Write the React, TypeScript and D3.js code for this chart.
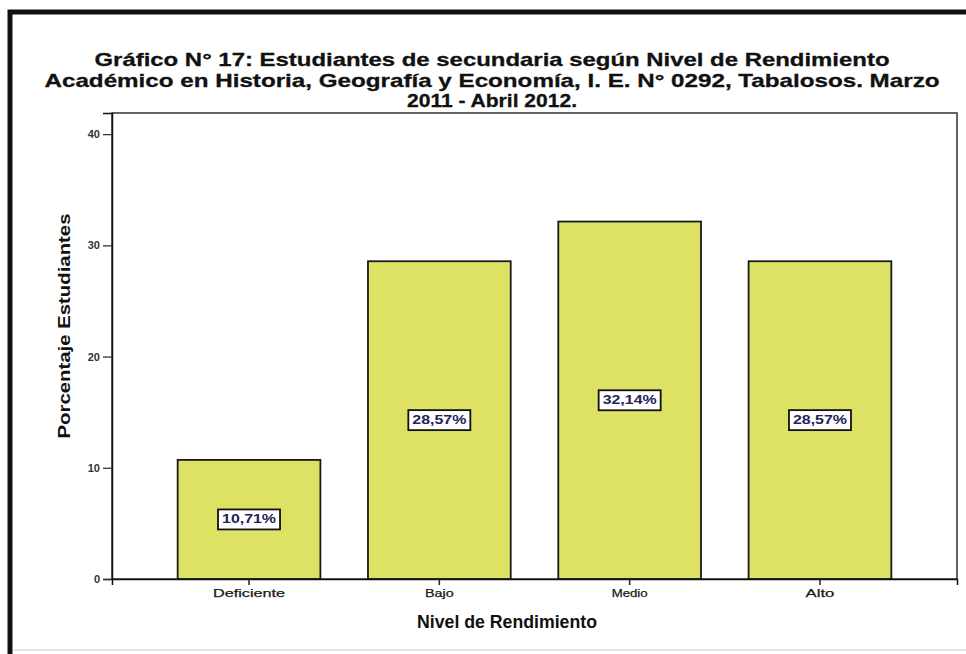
import React, { useEffect, useRef } from 'react';
import * as d3 from 'd3';

const W = 966, H = 654;
const M = { top: 113, right: 9, bottom: 75, left: 112 };

const categories = ['Deficiente', 'Bajo', 'Medio', 'Alto'];
const porcentajes = [10.71, 28.57, 32.14, 28.57];
const yTicks = [0, 10, 20, 30, 40];
const titleLines = [
  'Gráfico N° 17: Estudiantes de secundaria según Nivel de Rendimiento',
  'Académico en Historia, Geografía y Economía,  I. E. N° 0292, Tabalosos. Marzo',
  '2011 - Abril 2012.',
];
const titleWidths = [795, 895, 170];

export default function App() {
  const svgRef = useRef<SVGSVGElement>(null);

  useEffect(() => {
    const svg = d3.select(svgRef.current);
    svg.selectAll('*').remove();

    const iw = W - M.left - M.right;
    const ih = H - M.top - M.bottom;
    const font = 'Liberation Sans, Arial, sans-serif';

    svg.append('rect').attr('width', W).attr('height', H).attr('fill', '#fff');

    // outer frame (top + left thick lines, faint bottom)
    svg.append('path')
      .attr('d', `M10,${H} L10,12 L${W},12`)
      .attr('fill', 'none')
      .attr('stroke', '#111')
      .attr('stroke-width', 5);
    svg.append('line')
      .attr('x1', 14).attr('x2', W).attr('y1', 650).attr('y2', 650)
      .attr('stroke', '#dcdcdc').attr('stroke-width', 1.5);

    // title
    titleLines.forEach((t, i) => {
      svg.append('text')
        .attr('x', 492)
        .attr('y', 66 + i * 20.5)
        .attr('text-anchor', 'middle')
        .attr('font-family', font)
        .attr('font-weight', 'bold')
        .attr('font-size', 19)
        .attr('fill', '#111')
        .attr('stroke', '#111')
        .attr('stroke-width', 0.3)
        .attr('textLength', titleWidths[i])
        .attr('lengthAdjust', 'spacingAndGlyphs')
        .text(t);
    });

    const g = svg.append('g').attr('transform', `translate(${M.left},${M.top})`);

    const x = d3.scaleBand<string>()
      .domain(categories)
      .range([0, iw])
      .paddingInner(0.25)
      .paddingOuter(0.345);

    const y = d3.scaleLinear().domain([0, 41.9]).range([ih, 0]);

    // plot frame
    g.append('rect')
      .attr('width', iw)
      .attr('height', ih)
      .attr('fill', '#fff')
      .attr('stroke', '#333')
      .attr('stroke-width', 1.5);

    // bars
    g.selectAll('.bar')
      .data(porcentajes)
      .join('rect')
      .attr('class', 'bar')
      .attr('x', (_, i) => x(categories[i])!)
      .attr('y', (d) => y(d))
      .attr('width', x.bandwidth())
      .attr('height', (d) => ih - y(d))
      .attr('fill', '#dee264')
      .attr('stroke', '#1a1a1a')
      .attr('stroke-width', 1.8);

    // value labels
    const lab = g.selectAll('.lab')
      .data(porcentajes)
      .join('g')
      .attr('class', 'lab')
      .attr('transform', (d, i) => `translate(${x(categories[i])! + x.bandwidth() / 2},${y(d / 2)})`);
    lab.append('rect')
      .attr('x', -31).attr('y', -10).attr('width', 62).attr('height', 20)
      .attr('fill', '#fff').attr('stroke', '#111').attr('stroke-width', 1.8);
    lab.append('text')
      .attr('text-anchor', 'middle')
      .attr('dominant-baseline', 'central')
      .attr('font-family', font)
      .attr('font-weight', 'bold')
      .attr('font-size', 12)
      .attr('fill', '#24225a')
      .attr('textLength', 54)
      .attr('lengthAdjust', 'spacingAndGlyphs')
      .text((d) => `${d.toFixed(2).replace('.', ',')}%`);

    // y axis
    const ya = g.append('g')
      .call(d3.axisLeft(y).tickValues(yTicks).tickSize(9).tickPadding(3).tickFormat(d3.format('d')));
    ya.select('.domain').attr('stroke', '#111').attr('stroke-width', 1.5);
    ya.selectAll('.tick line').attr('stroke', '#333').attr('stroke-width', 1.3);
    ya.selectAll('.tick text')
      .attr('font-family', font)
      .attr('font-size', 11)
      .attr('font-weight', 'bold')
      .attr('fill', '#333');

    // x axis
    const xa = g.append('g')
      .attr('transform', `translate(0,${ih})`)
      .call(d3.axisBottom(x).tickSize(6).tickPadding(4));
    xa.select('.domain').attr('stroke', '#111').attr('stroke-width', 1.5);
    xa.selectAll('.tick line').attr('stroke', '#222').attr('stroke-width', 1.5);
    xa.selectAll('.tick text')
      .attr('font-family', font)
      .attr('font-size', 11)
      .attr('fill', '#1a1a1a')
      .attr('stroke', '#1a1a1a')
      .attr('stroke-width', 0.25)
      .attr('textLength', (d: any) => d.length * 7.2)
      .attr('lengthAdjust', 'spacingAndGlyphs');

    // axis titles
    svg.append('text')
      .attr('transform', `translate(70,326) rotate(-90)`)
      .attr('text-anchor', 'middle')
      .attr('font-family', font)
      .attr('font-weight', 'bold')
      .attr('font-size', 17)
      .attr('fill', '#111')
      .attr('textLength', 225)
      .attr('lengthAdjust', 'spacingAndGlyphs')
      .text('Porcentaje Estudiantes');

    svg.append('text')
      .attr('x', 507)
      .attr('y', 628)
      .attr('text-anchor', 'middle')
      .attr('font-family', font)
      .attr('font-weight', 'bold')
      .attr('font-size', 18)
      .attr('fill', '#111')
      .attr('textLength', 180)
      .attr('lengthAdjust', 'spacingAndGlyphs')
      .text('Nivel de Rendimiento');
  }, []);

  return (
    <svg
      ref={svgRef}
      width={W}
      height={H}
      style={{ position: 'absolute', left: 0, top: 0, display: 'block' }}
    />
  );
}
